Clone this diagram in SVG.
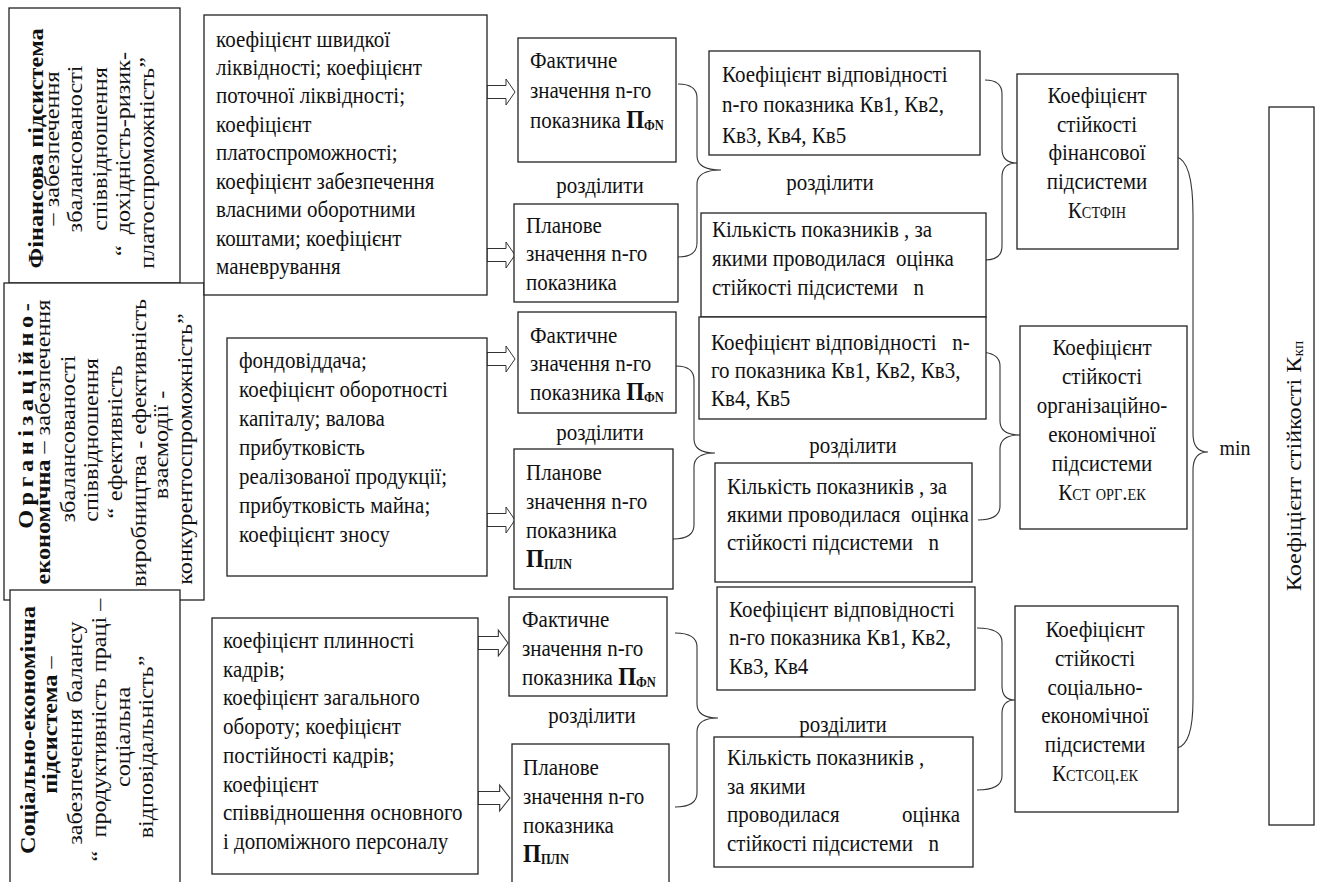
<svg xmlns="http://www.w3.org/2000/svg" width="1318" height="882" viewBox="0 0 1318 882">
<style>
.box{fill:#fff;stroke:#222;stroke-width:1.3}
.br{fill:none;stroke:#333;stroke-width:1.1}
.arr{fill:#fff;stroke:#333;stroke-width:1}
text{font-family:"Liberation Serif","Tinos","Times New Roman",serif;font-size:21px;fill:#111}
.b{font-weight:bold}
.r{font-size:22px}
.c{text-anchor:middle}
.sc{font-variant:small-caps}
.sub{font-weight:bold;font-size:12.5px}
.pb{font-weight:bold;font-size:23px}
</style>
<defs>
<polygon id="harrow" class="arr" points="0,-6.5 19,-6.5 19,-13 28,0 19,13 19,6.5 0,6.5"/>
</defs>
<rect width="1318" height="882" fill="#fff"/>

<g id="connectors">
<use href="#harrow" transform="translate(487,92)"/>
<use href="#harrow" transform="translate(487,255)"/>
<use href="#harrow" transform="translate(487,359)"/>
<use href="#harrow" transform="translate(487,520)"/>
<use href="#harrow" transform="translate(478,643) scale(1.07,1)"/>
<use href="#harrow" transform="translate(478,798) scale(1.14,1)"/>
<path class="br" d="M678,84 Q697,84 697,98 L697,156 Q697,170 721,170 Q697,170 697,184 L697,243 Q697,257 678,257"/>
<path class="br" d="M985,80 Q1002,80 1002,94 L1002,149 Q1002,163 1017,163 Q1002,163 1002,177 L1002,246 Q1002,260 985,260"/>
<path class="br" d="M676,366 Q694,366 694,380 L694,439 Q694,453 715,453 Q694,453 694,467 L694,525 Q694,539 673,539"/>
<path class="br" d="M978,352 Q1000,352 1000,366 L1000,421 Q1000,435 1020,435 Q1000,435 1000,449 L1000,506 Q1000,520 978,520"/>
<path class="br" d="M675,633 Q697,633 697,647 L697,704 Q697,718 718,718 Q697,718 697,732 L697,793 Q697,807 675,807"/>
<path class="br" d="M977,628 Q1002,628 1002,642 L1002,686 Q1002,700 1015,700 Q1002,700 1002,714 L1002,776 Q1002,790 977,790"/>
<path class="br" d="M1176,157 Q1193,160 1193,215 L1193,434 Q1193,452 1208,452 Q1193,452 1193,470 L1193,700 Q1193,745 1177,748"/>
</g>

<g id="fin-subsystem">
<rect class="box" x="9" y="8" width="171" height="275"/>
<text class="r c" transform="translate(43,150) scale(1,1.1) rotate(-90)"><tspan class="b" x="1.4" y="0">Фінансова підсистема</tspan><tspan x="1.4" y="16">– забезпечення</tspan><tspan x="0.9" y="39">збалансованості</tspan><tspan x="0.9" y="64">співвідношення</tspan><tspan x="-3.6" y="87">“</tspan><tspan dx="10">дохідність-ризик-</tspan><tspan x="-11.8" y="111">платоспроможність”</tspan></text>
</g>

<g id="org-subsystem">
<rect class="box" x="4" y="283" width="200" height="317"/>
<text class="r b c" transform="translate(33,416) scale(1,1.1) rotate(-90)" textLength="205" lengthAdjust="spacing">Організаційно-</text>
<text class="r c" transform="translate(33,442) scale(1,1.1) rotate(-90)"><tspan x="0" y="17"><tspan class="b">економічна</tspan> – забезпечення</tspan><tspan x="2.7" y="42">збалансованості</tspan><tspan x="1.8" y="65">співвідношення</tspan><tspan x="0" y="89">“</tspan><tspan dx="6">ефективність</tspan><tspan x="-0.9" y="113">виробництва - ефективність</tspan><tspan x="-2.7" y="135">взаємодії -</tspan><tspan x="-6.4" y="159">конкурентоспроможність”</tspan></text>
</g>

<g id="soc-subsystem">
<rect class="box" x="10" y="590" width="170" height="300"/>
<text class="r c" transform="translate(35,735) scale(1,1.1) rotate(-90)"><tspan class="b" x="4.5" y="0">Соціально-економічна</tspan><tspan x="9" y="22"><tspan class="b">підсистема</tspan> –</tspan><tspan x="1.8" y="47">забезпечення балансу</tspan><tspan x="4.5" y="71">“</tspan><tspan dx="12">продуктивність праці –</tspan><tspan x="-1.8" y="95">соціальна</tspan><tspan x="-10.9" y="118">відповідальність”</tspan></text>
</g>

<g id="fin-list">
<rect class="box" x="204" y="15" width="283" height="280"/>
<text transform="translate(216,46.5) scale(1,1.1)"><tspan x="0" y="0">коефіцієнт швидкої</tspan><tspan x="0" dy="25.9">ліквідності; коефіцієнт</tspan><tspan x="0" dy="25.9">поточної ліквідності;</tspan><tspan x="0" dy="25.9">коефіцієнт</tspan><tspan x="0" dy="25.9">платоспроможності;</tspan><tspan x="0" dy="25.9">коефіцієнт забезпечення</tspan><tspan x="0" dy="25.9">власними оборотними</tspan><tspan x="0" dy="25.9">коштами; коефіцієнт</tspan><tspan x="0" dy="25.9">маневрування</tspan></text>
</g>

<g id="fin-fact">
<rect class="box" x="518" y="38" width="158" height="124"/>
<text transform="translate(530,68) scale(1,1.1)"><tspan x="0" y="0">Фактичне</tspan><tspan x="0" dy="27.27">значення n-го</tspan><tspan x="0" dy="27.27">показника <tspan class="pb">П</tspan><tspan class="sub" dy="2">ФN</tspan></tspan></text>
</g>
<g id="fin-div1"><text class="c" transform="translate(600,193) scale(1,1.1)">розділити</text></g>
<g id="fin-plan">
<rect class="box" x="514" y="204" width="164" height="98"/>
<text transform="translate(526,233) scale(1,1.1)"><tspan x="0" y="0">Планове</tspan><tspan x="0" dy="25.9">значення n-го</tspan><tspan x="0" dy="25.9">показника</tspan></text>
</g>
<g id="fin-kv">
<rect class="box" x="709" y="51" width="271" height="104"/>
<text transform="translate(722,82) scale(1,1.1)"><tspan x="0" y="0">Коефіцієнт відповідності</tspan><tspan x="0" dy="27.7">n-го показника Кв1, Кв2,</tspan><tspan x="0" dy="27.7">Кв3, Кв4, Кв5</tspan></text>
</g>
<g id="fin-div2"><text class="c" transform="translate(830,190) scale(1,1.1)">розділити</text></g>
<g id="fin-count">
<rect class="box" x="701" y="213" width="285" height="104"/>
<text xml:space="preserve" transform="translate(712,237) scale(1,1.1)"><tspan x="0" y="0">Кількість показників , за</tspan><tspan x="0" dy="26.4">якими проводилася  оцінка</tspan><tspan x="0" dy="26.4">стійкості підсистеми   n</tspan></text>
</g>
<g id="fin-stab">
<rect class="box" x="1017" y="74" width="161" height="175"/>
<text class="c" transform="translate(1097,103) scale(1,1.1)"><tspan x="0" y="0">Коефіцієнт</tspan><tspan x="0" dy="26.1">стійкості</tspan><tspan x="0" dy="26.1">фінансової</tspan><tspan x="0" dy="26.1">підсистеми</tspan><tspan x="0" dy="26.1">К<tspan class="sc">стфін</tspan></tspan></text>
</g>

<g id="org-list">
<rect class="box" x="227" y="338" width="260" height="238"/>
<text transform="translate(239,368) scale(1,1.1)"><tspan x="0" y="0">фондовіддача;</tspan><tspan x="0" dy="26.36">коефіцієнт оборотності</tspan><tspan x="0" dy="26.36">капіталу; валова</tspan><tspan x="0" dy="26.36">прибутковість</tspan><tspan x="0" dy="26.36">реалізованої продукції;</tspan><tspan x="0" dy="26.36">прибутковість майна;</tspan><tspan x="0" dy="26.36">коефіцієнт зносу</tspan></text>
</g>
<g id="org-fact">
<rect class="box" x="518" y="312" width="158" height="101"/>
<text transform="translate(530,343) scale(1,1.1)"><tspan x="0" y="0">Фактичне</tspan><tspan x="0" dy="25.9">значення n-го</tspan><tspan x="0" dy="25.9">показника <tspan class="pb">П</tspan><tspan class="sub" dy="2">ФN</tspan></tspan></text>
</g>
<g id="org-div1"><text class="c" transform="translate(600,440) scale(1,1.1)">розділити</text></g>
<g id="org-plan">
<rect class="box" x="514" y="449" width="159" height="140"/>
<text transform="translate(526,480) scale(1,1.1)"><tspan x="0" y="0">Планове</tspan><tspan x="0" dy="26.4">значення n-го</tspan><tspan x="0" dy="26.4">показника</tspan><tspan x="0" dy="26.4"><tspan class="pb">П</tspan><tspan class="sub" dy="2">ПЛN</tspan></tspan></text>
</g>
<g id="org-kv">
<rect class="box" x="699" y="317" width="287" height="102"/>
<text xml:space="preserve" transform="translate(711,350) scale(1,1.1)"><tspan x="0" y="0">Коефіцієнт відповідності   n-</tspan><tspan x="0" dy="25.45">го показника Кв1, Кв2, Кв3,</tspan><tspan x="0" dy="25.45">Кв4, Кв5</tspan></text>
</g>
<g id="org-div2"><text class="c" transform="translate(853,453) scale(1,1.1)">розділити</text></g>
<g id="org-count">
<rect class="box" x="715" y="463" width="257" height="119"/>
<text xml:space="preserve" transform="translate(727,494) scale(1,1.1)"><tspan x="0" y="0">Кількість показників , за</tspan><tspan x="0" dy="25.45">якими проводилася  оцінка</tspan><tspan x="0" dy="25.45">стійкості підсистеми   n</tspan></text>
</g>
<g id="org-stab">
<rect class="box" x="1020" y="326" width="167" height="203"/>
<text class="c" transform="translate(1102,355) scale(1,1.1)"><tspan x="0" y="0">Коефіцієнт</tspan><tspan x="0" dy="26.36">стійкості</tspan><tspan x="0" dy="26.36">організаційно-</tspan><tspan x="0" dy="26.36">економічної</tspan><tspan x="0" dy="26.36">підсистеми</tspan><tspan x="0" dy="26.36">К<tspan class="sc">ст орг.ек</tspan></tspan></text>
</g>

<g id="soc-list">
<rect class="box" x="212" y="618" width="266" height="256"/>
<text transform="translate(223,648) scale(1,1.1)"><tspan x="0" y="0">коефіцієнт плинності</tspan><tspan x="0" dy="26.1">кадрів;</tspan><tspan x="0" dy="26.1">коефіцієнт загального</tspan><tspan x="0" dy="26.1">обороту; коефіцієнт</tspan><tspan x="0" dy="26.1">постійності кадрів;</tspan><tspan x="0" dy="26.1">коефіцієнт</tspan><tspan x="0" dy="26.1">співвідношення основного</tspan><tspan x="0" dy="26.1">і допоміжного персоналу</tspan></text>
</g>
<g id="soc-fact">
<rect class="box" x="509" y="597" width="158" height="99"/>
<text transform="translate(522,627) scale(1,1.1)"><tspan x="0" y="0">Фактичне</tspan><tspan x="0" dy="26.4">значення n-го</tspan><tspan x="0" dy="26.4">показника <tspan class="pb">П</tspan><tspan class="sub" dy="2">ФN</tspan></tspan></text>
</g>
<g id="soc-div1"><text class="c" transform="translate(592,723) scale(1,1.1)">розділити</text></g>
<g id="soc-plan">
<rect class="box" x="512" y="744" width="157" height="145"/>
<text transform="translate(523,775) scale(1,1.1)"><tspan x="0" y="0">Планове</tspan><tspan x="0" dy="26.4">значення n-го</tspan><tspan x="0" dy="26.4">показника</tspan><tspan x="0" dy="26.4"><tspan class="pb">П</tspan><tspan class="sub" dy="2">ПЛN</tspan></tspan></text>
</g>
<g id="soc-kv">
<rect class="box" x="717" y="587" width="258" height="103"/>
<text transform="translate(729,617) scale(1,1.1)"><tspan x="0" y="0">Коефіцієнт відповідності</tspan><tspan x="0" dy="25.9">n-го показника Кв1, Кв2,</tspan><tspan x="0" dy="25.9">Кв3, Кв4</tspan></text>
</g>
<g id="soc-div2"><text class="c" transform="translate(843,732) scale(1,1.1)">розділити</text></g>
<g id="soc-count">
<rect class="box" x="714" y="737" width="259" height="130"/>
<text xml:space="preserve" transform="translate(727,765) scale(1,1.1)"><tspan x="0" y="0">Кількість показників ,</tspan><tspan x="0" dy="26.1">за якими</tspan><tspan x="0" dy="26.1">проводилася</tspan><tspan x="175">оцінка</tspan><tspan x="0" dy="26.1">стійкості підсистеми   n</tspan></text>
</g>
<g id="soc-stab">
<rect class="box" x="1015" y="606" width="163" height="206"/>
<text class="c" transform="translate(1095,637) scale(1,1.1)"><tspan x="0" y="0">Коефіцієнт</tspan><tspan x="0" dy="26.2">стійкості</tspan><tspan x="0" dy="26.2">соціально-</tspan><tspan x="0" dy="26.2">економічної</tspan><tspan x="0" dy="26.2">підсистеми</tspan><tspan x="0" dy="26.2">К<tspan class="sc">стсоц.ек</tspan></tspan></text>
</g>

<g id="min-label"><text class="c" style="font-size:20px" transform="translate(1235,455) scale(1,1.1)">min</text></g>

<g id="total">
<rect class="box" x="1269" y="107" width="45" height="718"/>
<text class="r c" transform="translate(1301,466) scale(1,1.1) rotate(-90)">Коефіцієнт стійкості К<tspan style="font-size:14px" dy="2">кп</tspan></text>
</g>
</svg>
